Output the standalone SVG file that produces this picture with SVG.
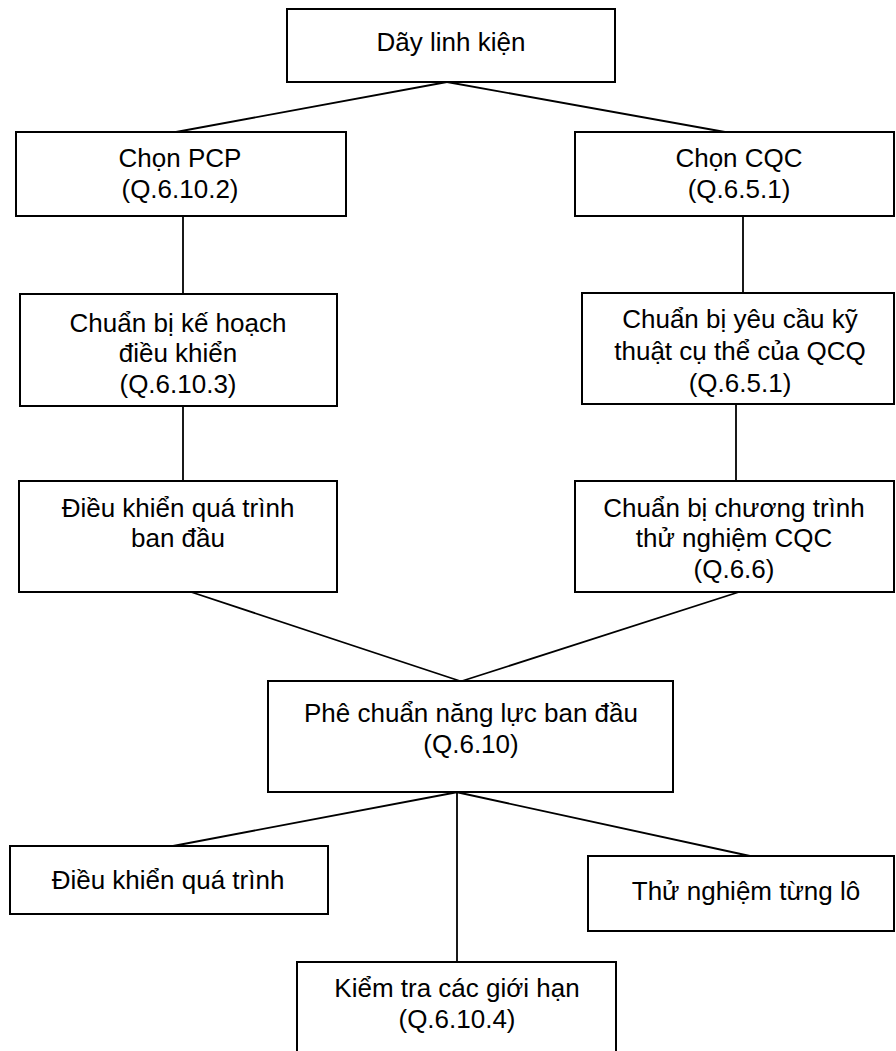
<svg xmlns="http://www.w3.org/2000/svg" width="896" height="1051" viewBox="0 0 896 1051">
<style>
.box{fill:#fff;stroke:#000;stroke-width:2}
.t{font-family:"Liberation Sans",Arial,sans-serif;font-size:26px;fill:#000;text-anchor:middle}
.c line{stroke:#000;stroke-width:1.8}
</style>
<rect width="896" height="1051" fill="#fff"/>
<g class="c" id="connectors">
<line x1="447" y1="82" x2="176" y2="132"/>
<line x1="447" y1="82" x2="725" y2="132"/>
<line x1="183" y1="216" x2="183" y2="294"/>
<line x1="743" y1="216" x2="743" y2="293"/>
<line x1="183" y1="406" x2="183" y2="481"/>
<line x1="736" y1="404" x2="736" y2="481"/>
<line x1="185" y1="590" x2="460" y2="681"/>
<line x1="739" y1="592" x2="462" y2="681"/>
<line x1="458" y1="792" x2="173" y2="846"/>
<line x1="457" y1="792" x2="457" y2="962"/>
<line x1="456" y1="792" x2="750" y2="856"/>
</g>
<g id="n1"><rect class="box" x="287" y="9" width="328" height="73"/><text class="t" x="451" y="51">Dãy linh kiện</text></g>
<g id="n2"><rect class="box" x="16" y="132" width="330" height="84"/><text class="t" x="180" y="167">Chọn PCP</text><text class="t" x="180" y="198">(Q.6.10.2)</text></g>
<g id="n3"><rect class="box" x="575" y="132" width="319" height="84"/><text class="t" x="739" y="167">Chọn CQC</text><text class="t" x="739" y="198">(Q.6.5.1)</text></g>
<g id="n4"><rect class="box" x="20" y="294" width="317" height="112"/><text class="t" x="178" y="332">Chuẩn bị kế hoạch</text><text class="t" x="178" y="362">điều khiển</text><text class="t" x="178" y="393">(Q.6.10.3)</text></g>
<g id="n5"><rect class="box" x="582" y="293" width="312" height="111"/><text class="t" x="740" y="328">Chuẩn bị yêu cầu kỹ</text><text class="t" x="740" y="360">thuật cụ thể của QCQ</text><text class="t" x="740" y="392">(Q.6.5.1)</text></g>
<g id="n6"><rect class="box" x="19" y="481" width="318" height="111"/><text class="t" x="178" y="517">Điều khiển quá trình</text><text class="t" x="178" y="547">ban đầu</text></g>
<g id="n7"><rect class="box" x="575" y="481" width="319" height="111"/><text class="t" x="734" y="517">Chuẩn bị chương trình</text><text class="t" x="734" y="547">thử nghiệm CQC</text><text class="t" x="734" y="578">(Q.6.6)</text></g>
<g id="n8"><rect class="box" x="268" y="681" width="405" height="111"/><text class="t" x="471" y="722">Phê chuẩn năng lực ban đầu</text><text class="t" x="471" y="753">(Q.6.10)</text></g>
<g id="n9"><rect class="box" x="10" y="846" width="318" height="68"/><text class="t" x="168" y="889">Điều khiển quá trình</text></g>
<g id="n10"><rect class="box" x="588" y="856" width="306" height="75"/><text class="t" x="746" y="900">Thử nghiệm từng lô</text></g>
<g id="n11"><rect class="box" x="297" y="962" width="319" height="100"/><text class="t" x="457" y="997">Kiểm tra các giới hạn</text><text class="t" x="457" y="1028">(Q.6.10.4)</text></g>
</svg>
